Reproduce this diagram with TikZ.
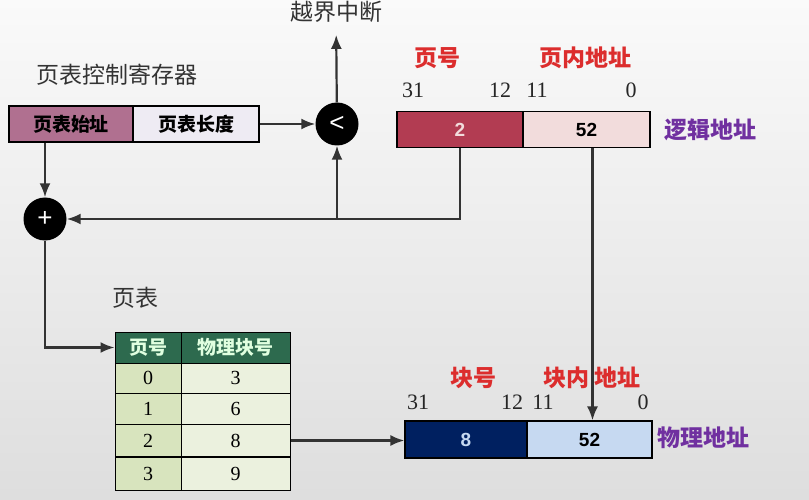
\documentclass[tikz,border=0pt]{standalone}
\usepackage{fontspec}
\usepackage{tikz}
\usetikzlibrary{arrows.meta}
\newfontfamily\cjk{Noto Sans CJK SC}
\newfontfamily\numsans{Liberation Sans}
\newfontfamily\numserif{Liberation Serif}
\definecolor{regmauve}{RGB}{176,112,144}
\definecolor{reglight}{RGB}{238,235,243}
\definecolor{pagered}{RGB}{178,60,82}
\definecolor{offpink}{RGB}{242,220,220}
\definecolor{blocknavy}{RGB}{0,32,96}
\definecolor{offblue}{RGB}{198,217,241}
\definecolor{tabgreen}{RGB}{45,106,78}
\definecolor{tableft}{RGB}{216,228,190}
\definecolor{tabright}{RGB}{235,241,222}
\definecolor{labred}{RGB}{220,45,45}
\definecolor{labpurple}{RGB}{112,48,160}

\begin{document}
\begin{tikzpicture}[x=1pt,y=-1pt,every node/.style={inner sep=0pt,font=\cjk\fontsize{23}{25}\selectfont},
  regbox/.style={draw=black,line width=1.2pt,minimum height=36pt,font=\cjk\bfseries\fontsize{19}{21}\selectfont},
  addrbox/.style={draw=black,line width=1.2pt,minimum height=36pt,font=\numsans\bfseries\fontsize{19}{20}\selectfont},
  cell/.style={draw=black,line width=1pt,font=\numserif\fontsize{20}{21}\selectfont},
  headcell/.style={cell,fill=tabgreen,text=white!88!green,minimum height=31pt,font=\cjk\bfseries\fontsize{19}{21}\selectfont},
  opc/.style={circle,fill=black,text=white,minimum size=43pt,font=\numsans\fontsize{26}{26}\selectfont},
  bitnum/.style={font=\numserif\fontsize{22}{23}\selectfont,text=black!85},
  redlab/.style={text=labred,font=\cjk\bfseries\fontsize{23}{25}\selectfont},
  purplelab/.style={text=labpurple,font=\cjk\bfseries\fontsize{23}{25}\selectfont},
  wire/.style={draw=black!80,line width=2.2pt},
  conn/.style={wire,-{Latex[length=14pt,width=11pt]}}]
\shade[top color=white!98!black,bottom color=black!13] (0,0) rectangle (809,500);

\node[text=black!80] (regtitle) at (117,75) {页表控制寄存器};
\node[regbox,fill=regmauve,minimum width=124pt] (base) at (71,124) {页表始址};
\node[regbox,fill=reglight,minimum width=126pt] (len) at (196,124) {页表长度};

\node[opc] (cmp) at (337,124) {<};
\node[text=black!80] (trap) at (336,12) {越界中断};
\node[opc] (add) at (45,219) {+};

\node[redlab] (pgno) at (437,58) {页号};
\node[redlab] (pgoff) at (585,58) {页内地址};
\node[bitnum] (l31) at (413,90) {31};
\node[bitnum] (l12) at (500,90) {12};
\node[bitnum] (l11) at (537,90) {11};
\node[bitnum] (l0) at (631,90) {0};
\node[addrbox,fill=pagered,text=offpink,minimum width=126pt] (lpage) at (460,129.5) {2};
\node[addrbox,fill=offpink,minimum width=127pt] (loff) at (586.5,129.5) {52};
\node[purplelab] (logaddr) at (710,130) {逻辑地址};

\node[text=black!80] (tabtitle) at (135,298) {页表};
\node[headcell,minimum width=66pt] (h1) at (148,347.5) {页号};
\node[headcell,minimum width=109pt] (h2) at (235.5,347.5) {物理块号};
\foreach \p/\b/\y/\h in {0/3/378/30,1/6/408.5/31,2/8/440.5/32,3/9/473.5/33}{
  \node[cell,fill=tableft,minimum width=66pt,minimum height=\h pt] (p\p) at (148,\y) {\p};
  \node[cell,fill=tabright,minimum width=109pt,minimum height=\h pt] (b\p) at (235.5,\y) {\b};
}

\node[redlab] (blkno) at (473,378) {块号};
\node[redlab] (blkoff) at (592,378) {块内\ 地址};
\node[bitnum] (p31) at (418,402) {31};
\node[bitnum] (p12) at (512,402) {12};
\node[bitnum] (p11) at (543,402) {11};
\node[bitnum] (p0) at (643,402) {0};
\node[addrbox,fill=blocknavy,text=offblue,minimum width=122pt,minimum height=37pt] (ppage) at (466,439.5) {8};
\node[addrbox,fill=offblue,minimum width=125pt,minimum height=37pt] (poff) at (589.5,439.5) {52};
\node[purplelab] (physaddr) at (703,438) {物理地址};

\draw[conn] (len) -- (cmp);
\draw[conn,shorten >=12pt] (cmp) -- (trap);
\draw[conn] (add |- base.south) -- (add);
\draw[conn] (lpage.south) -- (lpage.south |- add) -- (add);
\draw[conn] (cmp |- add) -- (cmp);
\draw[conn] (add) |- (h1.west);
\draw[conn] (b2.east) -- (b2.east -| ppage.west);
\draw[conn] ([xshift=6pt]loff.south) -- ([xshift=6pt]loff.south |- poff.north);
\end{tikzpicture}
\end{document}
